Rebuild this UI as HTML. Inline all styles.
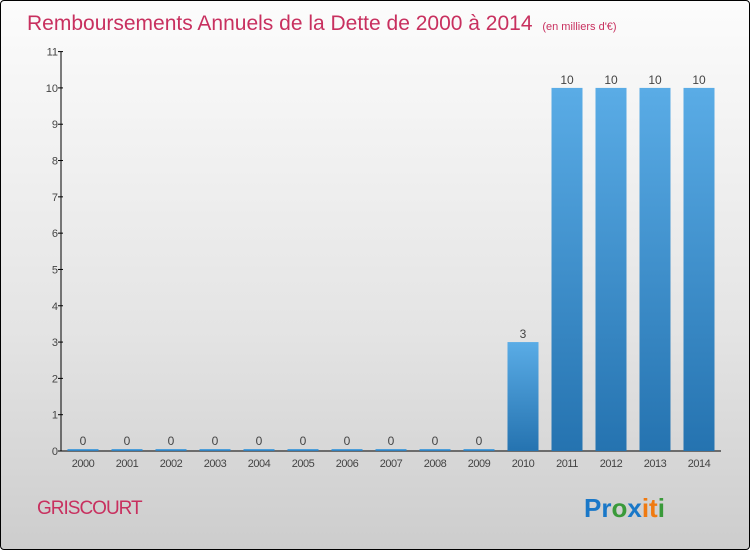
<!DOCTYPE html>
<html><head><meta charset="utf-8"><style>
html,body{margin:0;padding:0;}
body{width:750px;height:550px;overflow:hidden;font-family:"Liberation Sans",sans-serif;}
#wrap{position:absolute;left:0;top:0;width:748px;height:548px;border:1px solid #000;border-radius:4px;background:linear-gradient(#fcfcfc,#e4e4e4 60%,#cdcdcd);}
</style></head><body>
<div id="wrap">
<svg width="750" height="550" xmlns="http://www.w3.org/2000/svg" id="chart">
<defs><linearGradient id="bg" x1="0" y1="0" x2="0" y2="1"><stop offset="0" stop-color="#5aace6"/><stop offset="1" stop-color="#2573b0"/></linearGradient></defs>
<text x="26" y="29" font-size="21" fill="#c8305f">Remboursements Annuels de la Dette de 2000 à 2014 <tspan font-size="11" dx="4">(en milliers d'€)</tspan></text>
<g id="axes"></g><g id="bars"></g>
<text x="36" y="513" font-size="19" fill="#c8305f" letter-spacing="-1">GRISCOURT</text>
<text x="583" y="516" font-size="26" font-weight="bold"><tspan fill="#1a78c8">Pr</tspan><tspan fill="#3a9a3a">o</tspan><tspan fill="#1a78c8">x</tspan><tspan fill="#f07a10">it</tspan><tspan fill="#3a9a3a">i</tspan></text>
</svg></div>
<script>
const categories=["2000","2001","2002","2003","2004","2005","2006","2007","2008","2009","2010","2011","2012","2013","2014"];
const values=[0,0,0,0,0,0,0,0,0,0,3,10,10,10,10];
const yTicks=[0,1,2,3,4,5,6,7,8,9,10,11];
const NS="http://www.w3.org/2000/svg";
const x0=60,x1=720,y0=450,yTop=50.6,yMax=11;
const step=44,firstC=82;
const xC=i=>firstC+i*step;
const yS=v=>y0-(v/yMax)*(y0-yTop);
function mk(t,a,p){const e=document.createElementNS(NS,t);for(const k in a)e.setAttribute(k,a[k]);p.appendChild(e);return e;}
const ax=document.getElementById('axes'),bs=document.getElementById('bars');
let l=mk('line',{x1:x0,y1:yTop,x2:x0,y2:y0,stroke:'#000'},ax);


l=mk('line',{x1:x0,y1:y0,x2:x1,y2:y0,stroke:'#000'},ax);


yTicks.forEach(v=>{const y=yS(v);
 mk('line',{x1:x0-3,y1:y,x2:x0+2,y2:y,stroke:'#000'},ax);
 const t=mk('text',{x:x0-3,y:y+4,'font-size':11,fill:'#444','text-anchor':'end'},ax);t.textContent=v;
 
 });
categories.forEach((c,i)=>{const cx=xC(i),v=values[i];
 const t=mk('text',{x:cx,y:466,'font-size':11,fill:'#444','text-anchor':'middle','letter-spacing':'-0.5'},ax);t.textContent=c;
 
 
 const top=Math.min(yS(v),y0-2);
 const r=mk('rect',{x:cx-15.5,y:top,width:31,height:y0-top,fill:'url(#bg)'},bs);
 
 
 const vl=mk('text',{x:cx,y:top-4,'font-size':12,fill:'#444','text-anchor':'middle'},bs);vl.textContent=v;
 
 });
</script>
</body></html>
